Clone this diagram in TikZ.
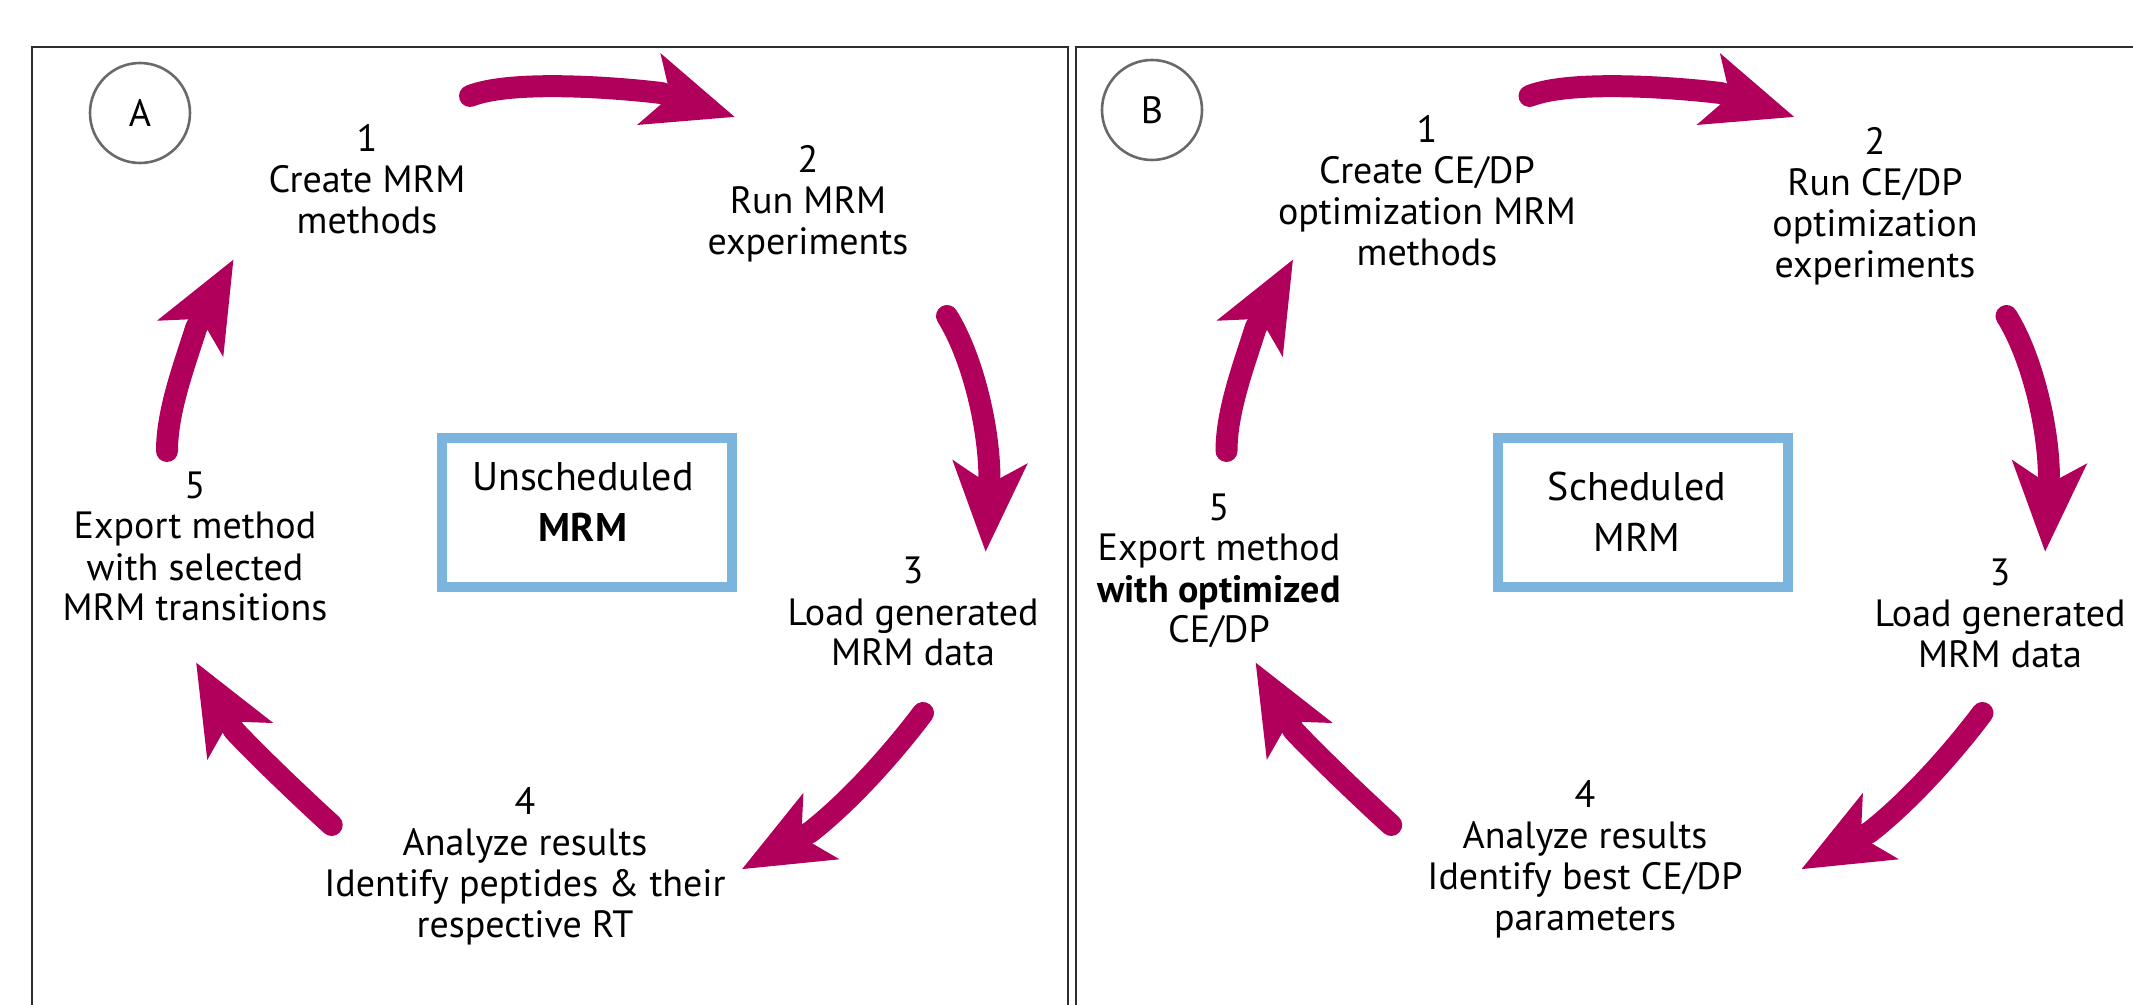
\documentclass[tikz,border=0pt]{standalone}
\usepackage{fontspec}
\setmainfont{PT Sans}
\usetikzlibrary{arrows.meta}
\definecolor{cyc}{RGB}{176,0,92}
\definecolor{boxblue}{RGB}{123,181,222}
\definecolor{framegray}{RGB}{45,45,45}
\definecolor{circgray}{RGB}{105,105,105}
\tikzset{
  stepnode/.style={align=center, inner sep=0pt, anchor=north,
    font=\fontsize{19}{20.5}\selectfont},
  boxtext/.style={align=center, inner sep=0pt, anchor=north,
    font=\fontsize{20}{25.5}\selectfont},
  cycarrow/.style={draw=cyc, line width=11pt, line cap=round, line join=round,
    -{Stealth[length=44.35pt,width=36.25pt,inset=10.5pt]}},
  panelline/.style={draw=framegray, line width=1pt},
  labelcircle/.style={circle, draw=circgray, line width=1.3pt, minimum size=50pt,
    inner sep=0pt, font=\fontsize{19}{20.5}\selectfont},
  modebox/.style={draw=boxblue, line width=5pt, inner sep=0pt,
    minimum width=144.8pt, minimum height=74.4pt}
}
\begin{document}
\begin{tikzpicture}[x=0.5pt,y=-0.5pt]
\useasboundingbox (0,0) rectangle (2133,1005);
% panels
\draw[panelline] (31.6,1005) -- (31.6,47) -- (1068,47) -- (1068,1005);
\draw[panelline] (1076,1005) -- (1076,47) -- (2133,47);
% circles
\node[labelcircle] (circA) at (140,113) {A};
\node[labelcircle] (circB) at (1152,110) {B};
% mode boxes
\node[modebox] (boxA) at (587,512.7) {};
\node[modebox] (boxB) at (1643,512.7) {};
\node[boxtext] (boxAtext) at (583,462) {Unscheduled\\\textbf{MRM}};
\node[boxtext] (boxBtext) at (1637,472) {Scheduled\\MRM};
% steps panel A
\node[stepnode] (a1) at (367,124) {1\\Create MRM\\methods};
\node[stepnode] (a2) at (808,145) {2\\Run MRM\\experiments};
\node[stepnode] (a3) at (913,557) {3\\Load generated\\MRM data};
\node[stepnode] (a4) at (525,787) {4\\Analyze results\\Identify peptides \& their\\respective RT};
\node[stepnode] (a5) at (195,471) {5\\Export method\\with selected\\MRM transitions};
% steps panel B
\node[stepnode] (b1) at (1427,115) {1\\Create CE/DP\\optimization MRM\\methods};
\node[stepnode] (b2) at (1875,127) {2\\Run CE/DP\\optimization\\experiments};
\node[stepnode] (b3) at (2000,559) {3\\Load generated\\MRM data};
\node[stepnode] (b4) at (1585,780) {4\\Analyze results\\Identify best CE/DP\\parameters};
\node[stepnode] (b5) at (1219,493) {5\\Export method\\\textbf{with optimized}\\CE/DP};
% arrows: start (s), head joint (n), tip (e) -- panel A
\coordinate (a12s) at (470,96);     \coordinate (a12n) at (661,93);      \coordinate (a12e) at (735,117);
\coordinate (a23s) at (947,316);    \coordinate (a23n) at (989.4,474);   \coordinate (a23e) at (985.6,552);
\coordinate (a34s) at (923,713);    \coordinate (a34n) at (810.3,832.1); \coordinate (a34e) at (741.7,869.3);
\coordinate (a45s) at (331.7,825);  \coordinate (a45n) at (234.1,730.4); \coordinate (a45e) at (196,662.3);
\coordinate (a51s) at (167,451);    \coordinate (a51n) at (196.2,327.7); \coordinate (a51e) at (233.6,259.3);
\draw[cycarrow] (a12s) .. controls (510,80) and (611,87) .. (a12n) -- (a12e);
\draw[cycarrow] (a23s) .. controls (972,356) and (988.4,424) .. (a23n) -- (a23e);
\draw[cycarrow] (a34s) .. controls (899,745) and (855,797) .. (a34n) -- (a34e);
\draw[cycarrow] (a45s) .. controls (305.8,801.5) and (257.9,756) .. (a45n) -- (a45e);
\draw[cycarrow] (a51s) .. controls (167,411) and (184.2,365.7) .. (a51n) -- (a51e);
% panel B arrows (same shapes, shifted)
\begin{scope}[xshift=529.75pt]
\coordinate (b12s) at (470,96);     \coordinate (b12n) at (661,93);      \coordinate (b12e) at (735,117);
\coordinate (b23s) at (947,316);    \coordinate (b23n) at (989.4,474);   \coordinate (b23e) at (985.6,552);
\coordinate (b34s) at (923,713);    \coordinate (b34n) at (810.3,832.1); \coordinate (b34e) at (741.7,869.3);
\coordinate (b45s) at (331.7,825);  \coordinate (b45n) at (234.1,730.4); \coordinate (b45e) at (196,662.3);
\coordinate (b51s) at (167,451);    \coordinate (b51n) at (196.2,327.7); \coordinate (b51e) at (233.6,259.3);
\draw[cycarrow] (b12s) .. controls (510,80) and (611,87) .. (b12n) -- (b12e);
\draw[cycarrow] (b23s) .. controls (972,356) and (988.4,424) .. (b23n) -- (b23e);
\draw[cycarrow] (b34s) .. controls (899,745) and (855,797) .. (b34n) -- (b34e);
\draw[cycarrow] (b45s) .. controls (305.8,801.5) and (257.9,756) .. (b45n) -- (b45e);
\draw[cycarrow] (b51s) .. controls (167,411) and (184.2,365.7) .. (b51n) -- (b51e);
\end{scope}
\end{tikzpicture}
\end{document}
